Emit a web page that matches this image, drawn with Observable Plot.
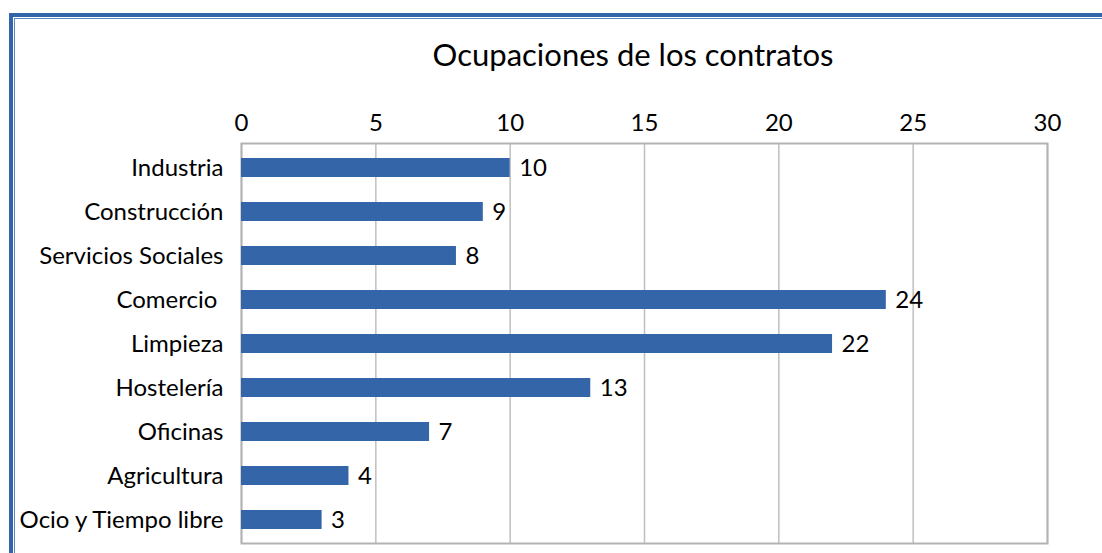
<!DOCTYPE html>
<html>
<head>
<meta charset="utf-8">
<script src="https://cdn.jsdelivr.net/npm/d3@7"></script>
<script src="https://cdn.jsdelivr.net/npm/@observablehq/plot@0.6"></script>
<style>
  html, body { margin: 0; padding: 0; background: #fff; }
  #wrap { position: relative; width: 1102px; height: 553px; overflow: hidden; font-family: Lato, "Open Sans", sans-serif; }
  #border1 { position: absolute; left: 9px; top: 13px; width: 1200px; height: 700px; border-top: 4px solid #3465a8; border-left: 4px solid #3465a8; }
  #border2 { position: absolute; left: 14px; top: 18px; width: 1200px; height: 700px; border-top: 1.5px solid #5d87c4; border-left: 1.5px solid #5d87c4; }
  #title { position: absolute; left: 0; width: 1266px; top: 35px; text-align: center; font-size: 31px; line-height: 38px; color: #000; }
  #chart { position: absolute; left: 0; top: 0; }
</style>
</head>
<body>
<div id="wrap">
  <div id="border1"></div>
  <div id="border2"></div>
  <div id="chart"></div>
  <div id="title">Ocupaciones de los contratos</div>
</div>
<script>
const categories = ["Industria", "Construcción", "Servicios Sociales", "Comercio ", "Limpieza", "Hostelería", "Oficinas", "Agricultura", "Ocio y Tiempo libre"];
const values = [10, 9, 8, 24, 22, 13, 7, 4, 3];
const xTicks = [0, 5, 10, 15, 20, 25, 30];

const data = categories.map((c, i) => ({category: c, value: values[i]}));

const chart = Plot.plot({
  width: 1102,
  height: 553,
  marginLeft: 241,
  marginRight: 55,
  marginTop: 143,
  marginBottom: 10,
  style: {fontFamily: "Lato, 'Open Sans', sans-serif", fontSize: "24px", color: "#000", background: "transparent", overflow: "visible"},
  x: {domain: [0, 30], ticks: xTicks, label: null},
  y: {domain: categories, label: null, paddingInner: 0.57, paddingOuter: 0.285},
  marks: [
    Plot.gridX(xTicks, {stroke: "#bfbfbf", strokeOpacity: 1, strokeWidth: 1.5}),
    Plot.frame({stroke: "#b3b3b3", strokeWidth: 2}),
    Plot.barX(data, {x: "value", y: "category", fill: "#3465a8"}),
    Plot.text(data, {x: "value", y: "category", text: d => String(d.value), textAnchor: "start", dx: 9, fontSize: 24, fill: "#000"}),
    Plot.axisX({ticks: xTicks, anchor: "top", tickSize: 0, tickPadding: 13, label: null, fontSize: 24}),
    Plot.axisY({anchor: "left", tickSize: 0, tickPadding: 18, label: null, fontSize: 24})
  ]
});
document.getElementById("chart").appendChild(chart);
</script>
</body>
</html>
